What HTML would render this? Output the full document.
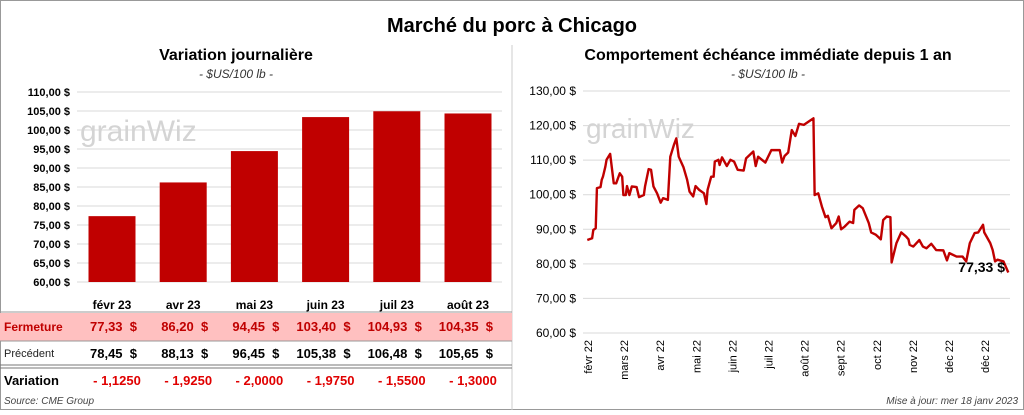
<!DOCTYPE html>
<html><head><meta charset="utf-8"><style>
body{margin:0;width:1024px;height:410px;background:#fff;font-family:"Liberation Sans",sans-serif;overflow:hidden}
svg text{font-family:"Liberation Sans",sans-serif}
</style></head><body>
<svg width="1024" height="410" viewBox="0 0 1024 410">
<rect x="0.5" y="0.5" width="1023" height="409" fill="#fff" stroke="#999"/>
<text x="512" y="32" font-size="20" font-weight="bold" text-anchor="middle">Marché du porc à Chicago</text>
<line x1="512" y1="45" x2="512" y2="410" stroke="#ccc"/>
<text x="236" y="60" font-size="16" font-weight="bold" text-anchor="middle">Variation  journalière</text>
<text x="236" y="78" font-size="12" font-style="italic" text-anchor="middle" fill="#333">- $US/100 lb -</text>
<text x="768" y="60" font-size="16" font-weight="bold" text-anchor="middle">Comportement  échéance immédiate depuis 1 an</text>
<text x="768" y="78" font-size="12" font-style="italic" text-anchor="middle" fill="#333">- $US/100 lb -</text>
<g id="left"></g>
<g id="right"></g>
<g id="table"></g>
<text x="4" y="404" font-size="10" font-style="italic" fill="#444">Source: CME Group</text>
<text x="1018" y="404" font-size="10" font-style="italic" fill="#444" text-anchor="end">Mise à jour: mer 18 janv 2023</text>
</svg>
<script>
const NS="http://www.w3.org/2000/svg";
const months=["févr 23","avr 23","mai 23","juin 23","juil 23","août 23"];
const closing=[77.33,86.20,94.45,103.40,104.93,104.35];
const previous=[78.45,88.13,96.45,105.38,106.48,105.65];
const variation=["- 1,1250","- 1,9250","- 2,0000","- 1,9750","- 1,5500","- 1,3000"];
const leftTicks=[60,65,70,75,80,85,90,95,100,105,110];
const rightTicks=[60,70,80,90,100,110,120,130];
const rightXLabels=["févr 22","mars 22","avr 22","mai 22","juin 22","juil 22","août 22","sept 22","oct 22","nov 22","déc 22","déc 22"];
const days=[0,4,5,7,8,11,12,13,15,16,19,22,24,27,29,30,32,33,35,37,41,43,47,48,51,53,55,58,61,63,67,69,72,74,76,80,83,85,88,90,93,97,99,100,103,105,106,109,110,112,116,119,122,125,130,132,138,140,142,148,153,160,162,164,167,170,173,176,180,185,188,189,192,195,198,200,203,207,209,211,214,218,221,222,226,229,234,236,240,244,246,249,252,253,257,261,265,267,268,271,276,279,282,286,290,296,299,301,307,312,315,318,322,325,329,330,335,337,339,341,346,350];
const prices=[86.9,87.4,89.8,90.3,101.9,102.2,104.3,105.2,108.1,110.1,111.8,103.3,103.3,106.2,105.2,99.9,99.9,102.5,99.9,102.4,102.2,99.3,99.9,102.4,107.4,107.2,102.4,100.4,97.7,99.0,98.5,111.0,114.4,116.3,111.0,107.9,104.3,100.9,99.5,102.5,101.4,100.4,97.3,101.4,105.2,105.2,109.6,110.1,108.6,110.8,108.3,110.1,109.6,107.2,107.0,110.5,112.5,108.3,111.0,109.3,112.9,112.9,109.3,111.2,112.2,118.7,117.0,120.5,120.2,121.4,122.1,99.9,100.4,96.6,93.5,93.9,90.3,91.8,93.7,90.0,90.8,92.2,91.8,95.6,96.9,96.1,91.8,89.1,88.4,87.1,92.7,93.7,93.5,80.4,86.0,89.1,87.9,87.1,85.5,85.0,86.9,85.0,84.5,85.8,84.0,83.9,81.0,83.1,82.1,82.1,80.7,86.0,88.9,89.1,91.3,89.1,86.0,84.0,80.7,81.2,80.7,77.5];
const fmt=v=>v.toFixed(2).replace('.',',');
function mk(tag,attrs,parent,text){const e=document.createElementNS(NS,tag);for(const k in attrs)e.setAttribute(k,attrs[k]);if(text!==undefined)e.textContent=text;parent.appendChild(e);return e;}

const L=document.getElementById('left');
const ly=v=>282-(v-60)*(190/50);
const lx=i=>112+i*71.2;
leftTicks.forEach(t=>{
 const g=mk('line',{x1:77,x2:502,y1:ly(t),y2:ly(t),stroke:'#d9d9d9'},L);
 
 
 const tx=mk('text',{x:70,y:ly(t)+4,'font-size':11,'font-weight':'bold','text-anchor':'end'},L,fmt(t)+' $');
 
 
});
mk('text',{x:80,y:141,'font-size':30,fill:'#d4d4d4'},L,'grainWiz');
closing.forEach((v,i)=>{
 const b=mk('rect',{x:lx(i)-23.5,y:ly(v),width:47,height:282-ly(v),fill:'#c00000'},L);
 
 
});

const T=document.getElementById('table');
mk('rect',{x:0,y:313,width:512,height:28,fill:'#ffc0c0'},T);
[[312,'#999'],[341,'#999'],[365,'#777'],[368,'#777']].forEach(([y,c])=>{
 const l=mk('line',{x1:0,x2:512,y1:y,y2:y,stroke:c,'stroke-width':1},T);
 
 
});
mk('text',{x:4,y:331,'font-size':12,'font-weight':'bold',fill:'#c00000'},T,'Fermeture');
mk('text',{x:4,y:357,'font-size':11,fill:'#222'},T,'Précédent');
mk('text',{x:4,y:385,'font-size':13,'font-weight':'bold'},T,'Variation');
months.forEach((m,i)=>{
 const c=lx(i);
 const a=mk('text',{x:c,y:309,'font-size':12,'font-weight':'bold','text-anchor':'middle'},T,m);
 
 
 const f=mk('text',{x:c+25,y:331,'font-size':13,'font-weight':'bold',fill:'#c00000','text-anchor':'end'},T,fmt(closing[i])+'\u00a0\u00a0$');
 
 
 const p=mk('text',{x:c+25,y:358,'font-size':13,'font-weight':'bold','text-anchor':'end'},T,fmt(previous[i])+'\u00a0\u00a0$');
 
 
 const vv=mk('text',{x:c+5,y:385,'font-size':13,'font-weight':'bold',fill:'#e00000','text-anchor':'middle'},T,variation[i]);
 
 
});

const R=document.getElementById('right');
const ry=v=>333-(v-60)*(242/70);
const rx=d=>587.3+d*(421/350);
rightTicks.forEach(t=>{
 const g=mk('line',{x1:583,x2:1010,y1:ry(t),y2:ry(t),stroke:'#d9d9d9'},R);
 
 
 const tx=mk('text',{x:576,y:ry(t)+4,'font-size':12,'text-anchor':'end'},R,fmt(t)+' $');
 
 
});
mk('text',{x:586,y:138,'font-size':28,fill:'#d4d4d4'},R,'grainWiz');
rightXLabels.forEach((s,i)=>{
 const x=592+i*36.1;
 const t=mk('text',{x:x,y:340,'font-size':11,'text-anchor':'end',transform:`rotate(-90 ${x} 340)`},R,s);
 
 
});
const pl=mk('polyline',{points:days.map((d,i)=>rx(d)+','+ry(prices[i])).join(' '),fill:'none',stroke:'#c00000','stroke-width':2.4,'stroke-linejoin':'round'},R);


const last=mk('text',{x:1005,y:272,'font-size':14,'font-weight':'bold','text-anchor':'end'},R,'77,33 $');


</script>
</body></html>
